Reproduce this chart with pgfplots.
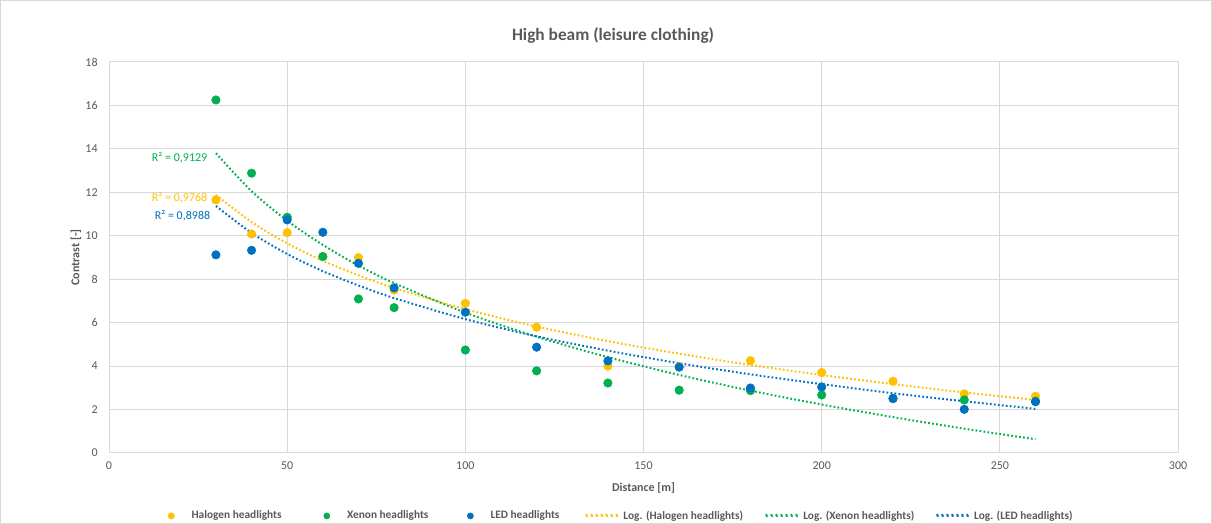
\documentclass[border=0pt]{standalone}
\usepackage{fontspec}
\setmainfont{Carlito}
\usepackage{pgfplots}
\pgfplotsset{compat=1.18}
\definecolor{halo}{HTML}{FFC000}
\definecolor{xeno}{HTML}{00B050}
\definecolor{led}{HTML}{0070C0}
\definecolor{gridc}{HTML}{D9D9D9}
\definecolor{txt}{HTML}{595959}
\pgfplotsset{
  markleg/.style={legend image code/.code={
    \path (-8.25pt,0pt) (15pt,0pt);
    \fill[color=#1] (0pt,0pt) circle (2.3pt);}},
  lineleg/.style={legend image code/.code={
    \path (0pt,0pt) (27pt,0pt);
    \foreach \k in {0,...,6} {\fill[color=#1] (\k*3.75pt,0pt) circle (0.65pt);}}},
}
\begin{document}
\begin{tikzpicture}
\begin{axis}[
  scale only axis, width=801.75pt, height=293.25pt,
  xmin=0, xmax=300, ymin=0, ymax=18,
  xtick={0,50,...,300}, ytick={0,2,...,18},
  grid=major, grid style={gridc, line width=0.75pt},
  axis line style={gridc, line width=0.75pt},
  major tick length=0pt,
  tick label style={font=\fontsize{9}{10}\selectfont, text=txt},
  /pgf/number format/assume math mode=true,
  xticklabel style={yshift=-3pt},
  yticklabel style={xshift=-5pt},
  xlabel={\textbf{Distance [m]}},
  ylabel={\textbf{Contrast [-]}},
  xlabel style={at={(axis description cs:0.5,-0.0895)}, anchor=center, font=\fontsize{9}{10}\selectfont, text=txt},
  ylabel style={at={(axis description cs:-0.0309,0.5)}, anchor=center, font=\fontsize{9}{10}\selectfont, text=txt},
  title={\textbf{High beam (leisure clothing)}},
  title style={at={(axis description cs:0.4715,1.046)}, anchor=center, font=\fontsize{13}{15}\selectfont, text=txt},
  legend style={at={(axis description cs:0.0477,-0.161)}, anchor=west, draw=none, fill=none,
    inner sep=0pt, outer sep=0pt, nodes={inner sep=0pt},
    font=\fontsize{8.5}{10}\selectfont\bfseries, text=txt, column sep=0pt},
  legend columns=6,
  legend cell align=left,
]
\addplot[only marks, mark=*, mark size=3.2pt, halo, mark options={draw=halo, fill=halo}, markleg=halo] coordinates {
 (30,11.65) (40,10.08) (50,10.14) (60,9.05) (70,8.99) (80,7.5) (100,6.89) (120,5.79) (140,4.0) (160,3.98) (180,4.25) (200,3.70) (220,3.30) (240,2.72) (260,2.61)};
\addlegendentry{\makebox[93pt][l]{Halogen headlights}}
\addplot[only marks, mark=*, mark size=3.2pt, xeno, mark options={draw=xeno, fill=xeno}, markleg=xeno] coordinates {
 (30,16.25) (40,12.88) (50,10.85) (60,9.04) (70,7.09) (80,6.69) (100,4.74) (120,3.78) (140,3.22) (160,2.89) (180,2.87) (200,2.67) (220,2.52) (240,2.44) (260,2.38)};
\addlegendentry{\makebox[84pt][l]{Xenon headlights}}
\addplot[only marks, mark=*, mark size=3.2pt, led, mark options={draw=led, fill=led}, markleg=led] coordinates {
 (30,9.12) (40,9.33) (50,10.73) (60,10.16) (70,8.73) (80,7.6) (100,6.48) (120,4.87) (140,4.24) (160,3.95) (180,2.99) (200,3.04) (220,2.50) (240,2.01) (260,2.36)};
\addlegendentry{\makebox[70.5pt][l]{LED headlights}}
\addplot[halo, smooth, line width=1.5pt, dash pattern=on 1.3pt off 1.7pt, lineleg=halo] coordinates {
 (30,11.88) (40,10.63) (50,9.65) (60,8.85) (70,8.18) (80,7.60) (100,6.62) (120,5.82) (140,5.15) (160,4.57) (180,4.05) (200,3.59) (220,3.17) (240,2.79) (260,2.44)};
\addlegendentry{\makebox[105.75pt][l]{Log. (Halogen headlights)}}
\addplot[xeno, smooth, line width=1.5pt, dash pattern=on 1.3pt off 1.7pt, lineleg=xeno] coordinates {
 (30,13.80) (40,12.05) (50,10.69) (60,9.58) (70,8.63) (80,7.82) (100,6.46) (120,5.35) (140,4.41) (160,3.59) (180,2.87) (200,2.23) (220,1.65) (240,1.12) (260,0.63)};
\addlegendentry{\makebox[99pt][l]{Log. (Xenon headlights)}}
\addplot[led, smooth, line width=1.5pt, dash pattern=on 1.3pt off 1.7pt, lineleg=led] coordinates {
 (30,11.37) (40,10.13) (50,9.16) (60,8.37) (70,7.71) (80,7.13) (100,6.16) (120,5.37) (140,4.71) (160,4.13) (180,3.62) (200,3.17) (220,2.75) (240,2.38) (260,2.03)};
\addlegendentry{Log. (LED headlights)}
\node[anchor=east, text=xeno, font=\fontsize{9}{10}\selectfont] at (axis cs:28.9,13.58) {R² = 0,9129};
\node[anchor=east, text=halo, font=\fontsize{9}{10}\selectfont] at (axis cs:28.9,11.74) {R² = 0,9768};
\node[anchor=east, text=led, font=\fontsize{9}{10}\selectfont] at (axis cs:29.7,10.91) {R² = 0,8988};
\end{axis}
\path[use as bounding box, draw=gridc, line width=0.75pt] ([xshift=-81.4pt,yshift=-52.9pt]current axis.south west) rectangle ([xshift=25.1pt,yshift=46.1pt]current axis.north east);
\end{tikzpicture}
\end{document}
